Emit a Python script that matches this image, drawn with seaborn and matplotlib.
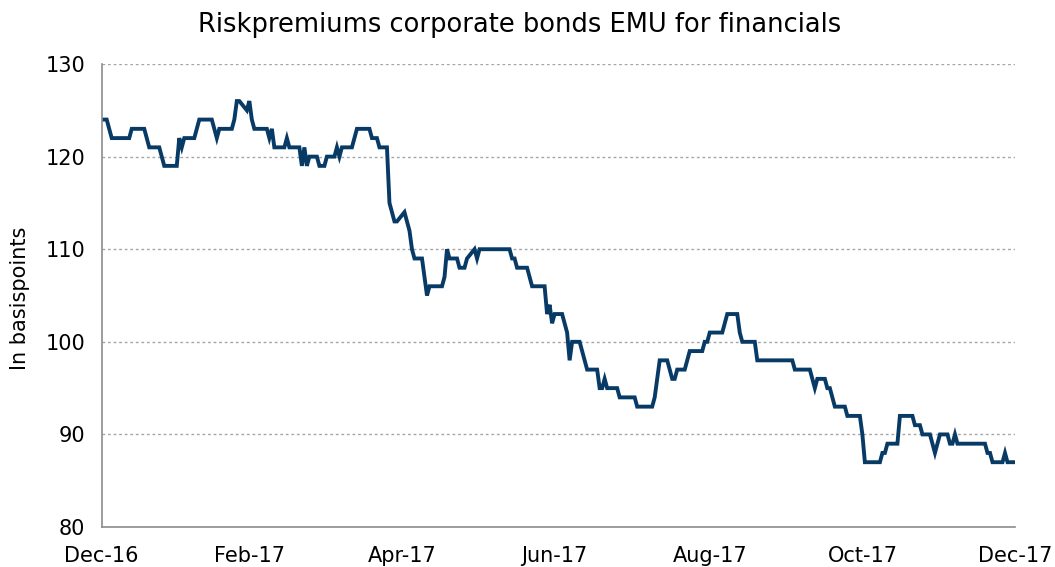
import matplotlib
matplotlib.use("Agg")
import matplotlib.pyplot as plt
import seaborn as sns
import pandas as pd

title = "Riskpremiums corporate bonds EMU for financials"
y_label = "In basispoints"

# x axis: Excel style, every two months from the last day of Dec-16
tick_dates = ["2016-12-31", "2017-02-28", "2017-04-30", "2017-06-30",
              "2017-08-31", "2017-10-31", "2017-12-31"]
tick_labels = ["Dec-16", "Feb-17", "Apr-17", "Jun-17", "Aug-17", "Oct-17", "Dec-17"]
y_ticks = [80, 90, 100, 110, 120, 130]

# spread in bp, one value per business day
spread_jan_mar = [124, 124, 123, 122, 122, 122, 122, 122, 122, 123,
                  123, 123, 123, 122, 121, 121, 121, 120, 119, 119,
                  119, 119, 122, 121, 122, 122, 122, 123, 124, 124,
                  124, 124, 123, 122, 123, 123, 123, 123, 124, 126,
                  126, 125, 126, 124, 123, 123, 123, 123, 122, 123,
                  121, 121, 121, 122, 121, 121, 121, 119, 121, 119,
                  120, 120, 119, 119, 119]
spread_apr_jun = [120, 120, 121, 120, 121,
                  121, 121, 122, 123, 123, 123, 123, 122, 122, 122,
                  121, 121, 115, 114, 113, 113, 114, 113, 112, 110,
                  109, 109, 107, 105, 106, 106, 106, 106, 107, 110,
                  109, 109, 108, 108, 108, 109, 110, 109, 110, 110,
                  110, 110, 110, 110, 110, 110, 110, 109, 109, 108,
                  108, 108, 107, 106, 106, 106, 106, 103, 104, 102]
spread_jul_sep = [103, 103, 102, 101, 98, 100, 100, 99, 98, 97,
                  97, 97, 95, 95, 96, 95, 95, 95, 94, 94,
                  94, 94, 94, 93, 93, 93, 93, 93, 94, 96,
                  98, 98, 97, 96, 96, 97, 97, 98, 99, 99,
                  99, 99, 100, 100, 101, 101, 101, 101, 102, 103,
                  103, 103, 101, 100, 100, 100, 100, 98, 98, 98,
                  98, 98, 98, 98, 98, 98, 98, 98, 97, 97]
spread_oct_dec = [97, 97, 97, 96, 95, 96, 96, 95, 95, 94,
                  93, 93, 93, 92, 92, 92, 92, 90, 87, 87,
                  87, 87, 87, 88, 88, 89, 89, 89, 92, 92,
                  92, 92, 91, 91, 91, 90, 90, 89, 88, 89,
                  90, 90, 89, 89, 90, 89, 89, 89, 89, 89,
                  89, 89, 89, 88, 88, 87, 87, 87, 88, 87,
                  87, 87]

spread = spread_jan_mar + spread_apr_jun + spread_jul_sep + spread_oct_dec
dates = pd.bdate_range("2016-12-30", periods=len(spread))
df = pd.DataFrame({"date": dates, "spread": spread})

sns.set_style("white")
plt.rcParams["font.family"] = ["DejaVu Sans"]
plt.rcParams["text.color"] = "black"

axis_grey = "#8c8c8c"
line_blue = "#083a66"

fig = plt.figure(figsize=(10.55, 5.67), dpi=100)
ax = fig.add_axes([0.0964, 0.0705, 0.8657, 0.8166])

sns.lineplot(data=df, x="date", y="spread", ax=ax, color=line_blue,
             linewidth=2.8, solid_joinstyle="miter")

ax.set_xlim(pd.Timestamp(tick_dates[0]), pd.Timestamp(tick_dates[-1]))
ax.set_ylim(80, 130)
ax.set_xticks(pd.to_datetime(tick_dates))
ax.set_xticklabels(tick_labels)
ax.set_yticks(y_ticks)
ax.set_xlabel("")
ax.set_ylabel("")

ax.yaxis.grid(True, color="#a6a6a6", linestyle=(0, (2, 2)), linewidth=1)
ax.xaxis.grid(False)
ax.set_axisbelow(True)

for side in ["top", "right"]:
    ax.spines[side].set_visible(False)
for side in ["left", "bottom"]:
    ax.spines[side].set_color(axis_grey)
    ax.spines[side].set_linewidth(1.2)

ax.tick_params(axis="x", length=5, width=1.2, color=axis_grey, direction="out",
               pad=9, labelsize=15, labelcolor="black")
ax.tick_params(axis="y", length=0, pad=12, labelsize=15, labelcolor="black")

fig.text(520 / 1055, 1 - 25 / 567, title, ha="center", va="center",
         fontsize=18.5, color="black")
fig.text(20 / 1055, 1 - 298 / 567, y_label, ha="center", va="center",
         rotation=90, fontsize=15, color="black")

fig.savefig("out.png", dpi=100)
